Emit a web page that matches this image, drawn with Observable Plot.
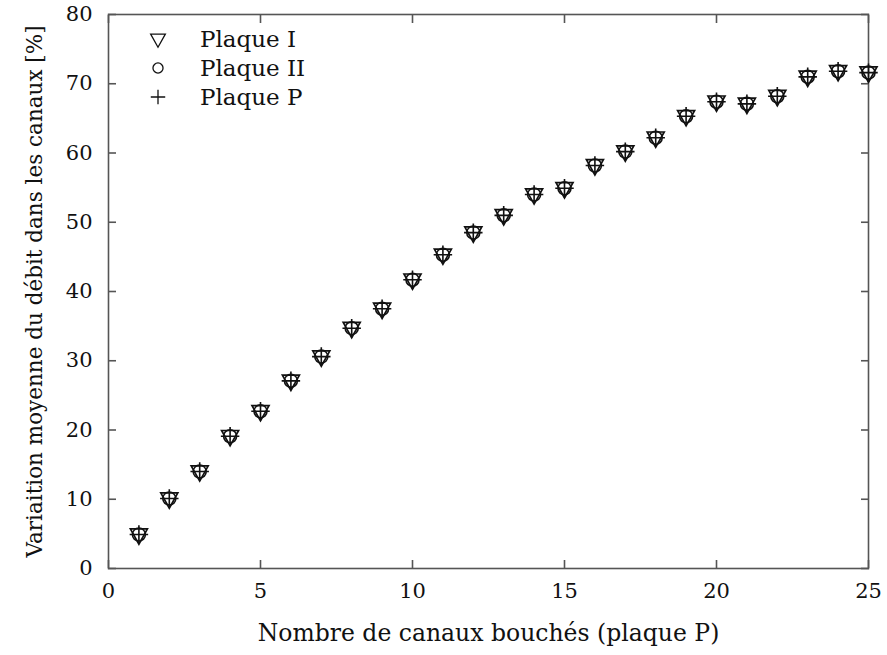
<!DOCTYPE html>
<html>
<head>
<meta charset="utf-8">
<script src="https://cdn.jsdelivr.net/npm/d3@7"></script>
<script src="https://cdn.jsdelivr.net/npm/@observablehq/plot@0.6"></script>
<style>
  html, body { margin: 0; padding: 0; background: #fff; }
  #wrap { position: relative; width: 887px; height: 655px; }
  #legend { position: absolute; left: 145px; top: 24px; font-family: "DejaVu Serif", serif; font-size: 23px; color: #111; }
  #legend .row { display: flex; align-items: center; height: 29px; }
  #legend svg { width: 26px; height: 26px; margin-right: 29px; }
</style>
</head>
<body>
<div id="wrap"><div id="legend"></div></div>
<script>
const canaux = [1,2,3,4,5,6,7,8,9,10,11,12,13,14,15,16,17,18,19,20,21,22,23,24,25];
const plaqueI  = [4.9,10.1,14.0,19.1,22.7,27.1,30.6,34.7,37.5,41.7,45.3,48.5,51.0,54.0,54.9,58.2,60.2,62.2,65.3,67.4,67.1,68.2,71.0,71.8,71.6];
const plaqueII = [4.9,10.1,14.0,19.1,22.7,27.1,30.6,34.7,37.5,41.7,45.3,48.5,51.0,54.0,54.9,58.2,60.2,62.2,65.3,67.4,67.1,68.2,71.0,71.8,71.6];
const plaqueP  = [4.9,10.1,14.0,19.1,22.7,27.1,30.6,34.7,37.5,41.7,45.3,48.5,51.0,54.0,54.9,58.2,60.2,62.2,65.3,67.4,67.1,68.2,71.0,71.8,71.6];
const seriesNames = ["Plaque I", "Plaque II", "Plaque P"];
const xTicks = [0,5,10,15,20,25];
const yTicks = [0,10,20,30,40,50,60,70,80];

const triDown = {
  draw(ctx, size) {
    const s = Math.sqrt(size);
    const h = s * 0.9;
    ctx.moveTo(-s * 0.6, -h * 0.45);
    ctx.lineTo(s * 0.6, -h * 0.45);
    ctx.lineTo(0, h * 0.75);
    ctx.closePath();
  }
};

const data = [];
canaux.forEach((c, i) => {
  data.push({x: c, y: plaqueI[i], s: seriesNames[0]});
  data.push({x: c, y: plaqueII[i], s: seriesNames[1]});
  data.push({x: c, y: plaqueP[i], s: seriesNames[2]});
});
const font = "DejaVu Serif";

const chart = Plot.plot({
  width: 887,
  height: 655,
  marginLeft: 108,
  marginRight: 19,
  marginTop: 14,
  marginBottom: 87,
  style: {fontFamily: font, fontSize: "21px", color: "#111", background: "#fff"},
  x: {domain: [0, 25], ticks: xTicks},
  y: {domain: [0, 80], ticks: yTicks},
  marks: [
    Plot.frame({stroke: "#555", strokeWidth: 1.6}),
    Plot.axisX({ticks: xTicks, tickSize: -8, tickPadding: 23, stroke: "#555", strokeWidth: 1.6, fontSize: 21, fontFamily: font, label: null}),
    Plot.axisX({ticks: [], label: "Nombre de canaux bouchés (plaque P)", labelAnchor: "center", labelArrow: "none", labelOffset: 72, fontSize: 23.5, fontFamily: font}),
    Plot.axisX({anchor: "top", ticks: xTicks, tickSize: -8, tickFormat: () => "", stroke: "#555", strokeWidth: 1.6, label: null}),
    Plot.axisY({ticks: yTicks, tickSize: -8, tickPadding: 24, stroke: "#555", strokeWidth: 1.6, fontSize: 21, fontFamily: font, label: null}),
    Plot.axisY({ticks: [], label: "Variaition moyenne du débit dans les canaux [%]", labelAnchor: "center", labelArrow: "none", labelOffset: 82, fontSize: 21.5, fontFamily: font}),
    Plot.axisY({anchor: "right", ticks: yTicks, tickSize: -8, tickFormat: () => "", stroke: "#555", strokeWidth: 1.6, label: null}),
    Plot.dot(data.filter(d => d.s === seriesNames[0]), {x: "x", y: "y", symbol: triDown, r: 8, stroke: "#111", strokeWidth: 1.7, fill: "none"}),
    Plot.dot(data.filter(d => d.s === seriesNames[1]), {x: "x", y: "y", symbol: "circle", r: 6.5, stroke: "#111", strokeWidth: 1.6, fill: "none"}),
    Plot.dot(data.filter(d => d.s === seriesNames[2]), {x: "x", y: "y", symbol: "plus", r: 6, stroke: "#111", strokeWidth: 1.6, fill: "none"})
  ]
});
document.getElementById("wrap").prepend(chart);

// Legend
const legend = document.getElementById("legend");
const symbols = [triDown, d3.symbolCircle, d3.symbolPlus];
const sizes = [150, 80, 70];
seriesNames.forEach((name, i) => {
  const row = document.createElement("div");
  row.className = "row";
  const svg = d3.create("svg").attr("viewBox", "-13 -13 26 26");
  svg.append("path").attr("d", d3.symbol(symbols[i], sizes[i])()).attr("fill", "none").attr("stroke", "#111").attr("stroke-width", 1.3);
  row.appendChild(svg.node());
  const t = document.createElement("span");
  t.textContent = name;
  row.appendChild(t);
  legend.appendChild(row);
});
</script>
</body>
</html>
